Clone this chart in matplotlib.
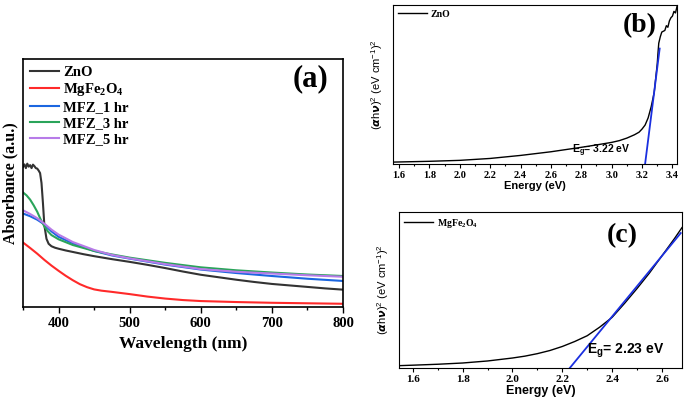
import matplotlib
matplotlib.use("Agg")
import matplotlib.pyplot as plt
from matplotlib.ticker import MultipleLocator

serif = "Liberation Serif"
sans = "Liberation Sans"
plt.rcParams["font.family"] = [serif, "DejaVu Sans"]
plt.rcParams["font.weight"] = "bold"
plt.rcParams["axes.labelweight"] = "bold"

# ---- panel (a): UV-vis absorbance ----
zno_wl = [350, 352, 354, 356, 358, 360, 362, 364, 366, 368, 370, 372, 374, 376, 378, 380, 383, 386,
          390, 395, 400, 410, 420, 435, 450, 475, 500, 525, 550, 575, 600, 625, 650, 675, 700, 725,
          750, 775, 800]
zno_abs = [0.565, 0.575, 0.56, 0.578, 0.566, 0.572, 0.56, 0.574, 0.568, 0.56, 0.558, 0.55, 0.54, 0.5,
           0.42, 0.33, 0.275, 0.255, 0.245, 0.239, 0.235, 0.228, 0.222, 0.213, 0.205, 0.193, 0.182,
           0.17, 0.157, 0.143, 0.13, 0.12, 0.11, 0.101, 0.093, 0.087, 0.081, 0.075, 0.07]

mfo_wl = [350, 360, 370, 380, 390, 400, 410, 420, 430, 440, 450, 460, 475, 500, 525, 550, 575, 600,
          650, 700, 750, 800]
mfo_abs = [0.26, 0.238, 0.215, 0.19, 0.167, 0.146, 0.126, 0.108, 0.092, 0.08, 0.071, 0.066, 0.061,
           0.052, 0.042, 0.034, 0.028, 0.024, 0.02, 0.017, 0.015, 0.013]

mfz1_wl = [350, 360, 370, 380, 390, 400, 420, 450, 475, 500, 550, 600, 650, 700, 750, 800]
mfz1_abs = [0.377, 0.366, 0.352, 0.333, 0.305, 0.283, 0.257, 0.226, 0.208, 0.195, 0.171, 0.151,
            0.137, 0.125, 0.114, 0.105]

mfz3_wl = [350, 355, 360, 365, 370, 375, 380, 385, 390, 400, 420, 450, 475, 500, 550, 600, 650,
           700, 750, 800]
mfz3_abs = [0.462, 0.45, 0.433, 0.41, 0.384, 0.352, 0.325, 0.305, 0.29, 0.273, 0.25, 0.226, 0.212,
            0.199, 0.178, 0.16, 0.148, 0.139, 0.131, 0.125]

mfz5_wl = [350, 360, 370, 380, 390, 400, 420, 450, 475, 500, 550, 600, 650, 700, 750, 800]
mfz5_abs = [0.39, 0.375, 0.358, 0.336, 0.312, 0.292, 0.262, 0.23, 0.21, 0.196, 0.173, 0.153, 0.142,
            0.135, 0.128, 0.122]

# ---- panel (b): ZnO Tauc plot ----
zno_e = [1.56, 1.8, 2.0, 2.2, 2.4, 2.6, 2.8, 2.9, 3.0, 3.05, 3.1, 3.15, 3.18, 3.2, 3.22, 3.24, 3.26,
         3.28, 3.29, 3.3, 3.305, 3.31, 3.32, 3.33, 3.35, 3.36, 3.37, 3.38, 3.39, 3.4, 3.41, 3.42, 3.43]
zno_tauc = [0.012, 0.017, 0.023, 0.035, 0.054, 0.077, 0.105, 0.12, 0.136, 0.147, 0.163, 0.184, 0.2,
            0.22, 0.245, 0.29, 0.36, 0.45, 0.54, 0.63, 0.7, 0.76, 0.8, 0.83, 0.84, 0.87, 0.86, 0.9,
            0.92, 0.93, 0.96, 0.95, 0.99]
zno_fit_e = [3.22, 3.316]
zno_fit_y = [0.0, 0.726]

# ---- panel (c): MgFe2O4 Tauc plot ----
mfo_e = [1.545, 1.6, 1.7, 1.8, 1.9, 2.0, 2.05, 2.1, 2.15, 2.2, 2.25, 2.3, 2.35, 2.4, 2.45, 2.5, 2.55,
         2.6, 2.65, 2.68]
mfo_tauc = [0.015, 0.018, 0.024, 0.032, 0.045, 0.064, 0.076, 0.092, 0.112, 0.138, 0.17, 0.207, 0.262,
            0.325, 0.415, 0.51, 0.61, 0.72, 0.83, 0.9]
mfo_fit_e = [2.23, 2.675]
mfo_fit_y = [0.0, 0.865]

mfo_label = r"MgFe$_{\mathregular{2}}$O$_{\mathregular{4}}$"
tauc_ylabel = r"($\alpha$h$\nu$)$^{\mathregular{2}}$ (eV cm$^{\mathregular{-1}}$)$^{\mathregular{2}}$"

fig = plt.figure(figsize=(6.85, 4.01), dpi=100)

# panel (a)
ax1 = fig.add_axes([0.0336, 0.2344, 0.4671, 0.6185])
ax1.plot(zno_wl, zno_abs, color="#333333", lw=1.5, label="ZnO")
ax1.plot(mfo_wl, mfo_abs, color="#ff2a2a", lw=1.5, label=mfo_label)
ax1.plot(mfz1_wl, mfz1_abs, color="#1b66e0", lw=1.5, label="MFZ_1 hr")
ax1.plot(mfz3_wl, mfz3_abs, color="#2aa45a", lw=1.5, label="MFZ_3 hr")
ax1.plot(mfz5_wl, mfz5_abs, color="#b77be8", lw=1.5, label="MFZ_5 hr")
ax1.set_xlim(350, 800)
ax1.set_ylim(0, 1)
ax1.set_yticks([])
ax1.xaxis.set_major_locator(MultipleLocator(100))
ax1.xaxis.set_minor_locator(MultipleLocator(50))
ax1.tick_params(axis="x", which="major", direction="out", length=4, width=1, labelsize=10.5)
ax1.tick_params(axis="x", which="minor", direction="out", length=2, width=1)
ax1.set_xlabel("Wavelength (nm)", fontweight="bold", fontsize=12.5, labelpad=4)
ax1.set_ylabel("Absorbance (a.u.)", fontweight="bold", fontsize=11.5, labelpad=3)
for sp in ax1.spines.values():
    sp.set_linewidth(1.2)
ax1.legend(loc="upper left", frameon=False, handlelength=2.0, handletextpad=0.3,
           labelspacing=0.18, borderaxespad=0.15, borderpad=0.3,
           prop={"family": serif, "weight": "bold", "size": 10.5})
ax1.text(0.9, 0.92, "(a)", transform=ax1.transAxes, ha="center", va="center",
         fontweight="bold", fontsize=22)

# panel (b)
ax2 = fig.add_axes([0.5737, 0.591, 0.4146, 0.3965])
ax2.plot(zno_e, zno_tauc, color="black", lw=1, label="ZnO")
ax2.plot(zno_fit_e, zno_fit_y, color="#1a2fe0", lw=1.3)
ax2.set_xlim(1.56, 3.43)
ax2.set_ylim(0, 1)
ax2.set_yticks([])
ax2.xaxis.set_major_locator(MultipleLocator(0.2))
ax2.xaxis.set_minor_locator(MultipleLocator(0.1))
ax2.tick_params(axis="x", which="major", direction="out", length=3, width=0.8, labelsize=7.5, pad=2)
ax2.tick_params(axis="x", which="minor", direction="out", length=1.5, width=0.8)
ax2.set_xlabel("Energy (eV)", fontfamily=sans, fontweight="bold", fontsize=8, labelpad=1)
ax2.set_ylabel(tauc_ylabel, fontfamily=sans, fontweight="normal", fontsize=8, labelpad=6)
ax2.legend(loc="upper left", frameon=False, handlelength=3, handletextpad=0.4,
           borderaxespad=0.1, prop={"family": serif, "weight": "bold", "size": 7})
ax2.text(0.87, 0.87, "(b)", transform=ax2.transAxes, ha="center", va="center",
         fontweight="bold", fontsize=20)
ax2.text(3.12, 0.03, r"E$_{\mathregular{g}}$= 3.22 eV", ha="right", va="bottom",
         fontfamily=sans, fontweight="bold", fontsize=7.5)

# panel (c)
ax3 = fig.add_axes([0.5825, 0.0823, 0.4131, 0.389])
ax3.plot(mfo_e, mfo_tauc, color="black", lw=1, label=mfo_label)
ax3.plot(mfo_fit_e, mfo_fit_y, color="#1a2fe0", lw=1.3)
ax3.set_xlim(1.545, 2.68)
ax3.set_ylim(0, 1)
ax3.set_yticks([])
ax3.xaxis.set_major_locator(MultipleLocator(0.2))
ax3.xaxis.set_minor_locator(MultipleLocator(0.1))
ax3.tick_params(axis="x", which="major", direction="out", length=3, width=0.8, labelsize=8, pad=2)
ax3.tick_params(axis="x", which="minor", direction="out", length=1.5, width=0.8)
ax3.set_xlabel("Energy (eV)", fontfamily=sans, fontweight="bold", fontsize=9, labelpad=1)
ax3.set_ylabel(tauc_ylabel, fontfamily=sans, fontweight="normal", fontsize=8, labelpad=6)
ax3.legend(loc="upper left", frameon=False, handlelength=3, handletextpad=0.4,
           borderaxespad=0.1, prop={"family": serif, "weight": "bold", "size": 7})
ax3.text(0.79, 0.85, "(c)", transform=ax3.transAxes, ha="center", va="center",
         fontweight="bold", fontsize=20)
ax3.text(2.30, 0.05, r"E$_{\mathregular{g}}$= 2.23 eV", ha="left", va="bottom",
         fontfamily=sans, fontweight="bold", fontsize=10)

fig.savefig("out.png", dpi=100)
